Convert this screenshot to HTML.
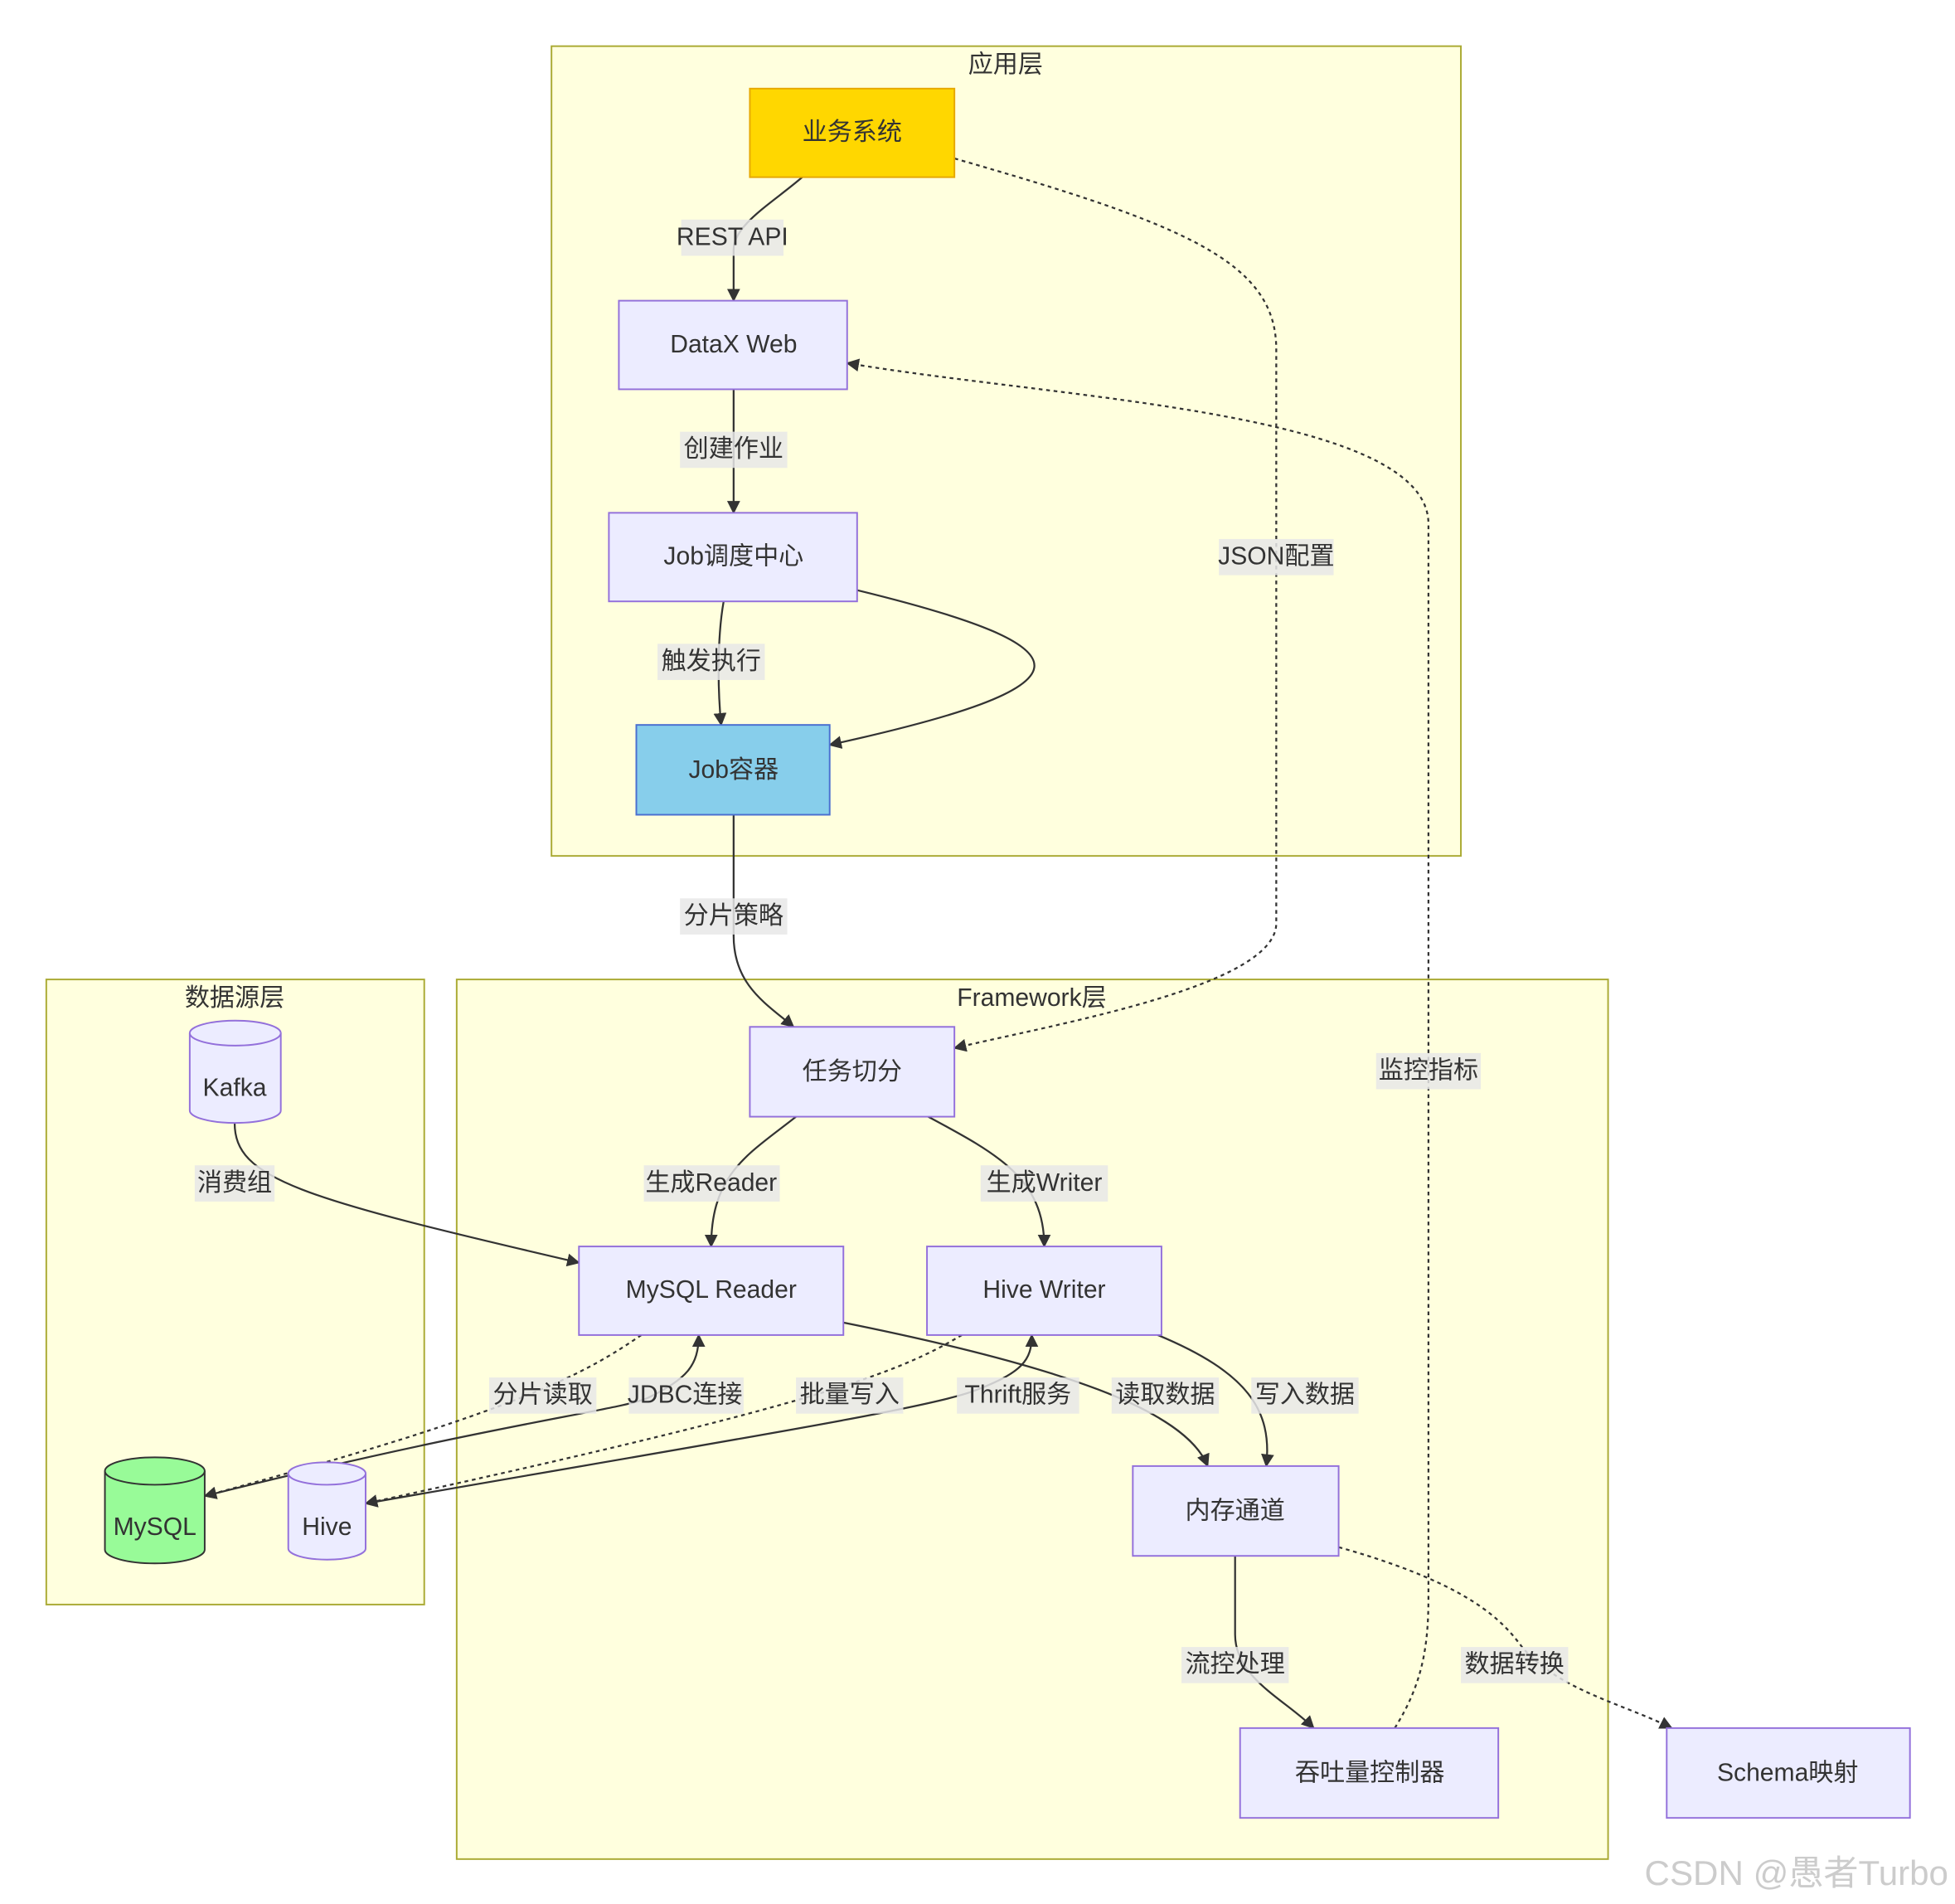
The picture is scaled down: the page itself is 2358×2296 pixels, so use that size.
<!DOCTYPE html>
<html><head><meta charset="utf-8"><style>
html,body{margin:0;padding:0;background:#fff}
svg{display:block}
text{font-family:"Liberation Sans","Noto Sans CJK SC",sans-serif;fill:#333;font-size:20px;text-anchor:middle;dominant-baseline:central}
.n{fill:#ECECFF;stroke:#9370DB;stroke-width:1.3}
.g{fill:#ffffde;stroke:#aaaa33;stroke-width:1.3}
.e{fill:none;stroke:#333;stroke-width:1.5}
.d{fill:none;stroke:#333;stroke-width:1.5;stroke-dasharray:3,3}
.lb{fill:rgba(232,232,232,0.85)}
</style></head><body>
<svg width="2358" height="2296" viewBox="0 0 1567 1526" xmlns="http://www.w3.org/2000/svg">
<defs><marker id="a" viewBox="0 0 10 10" refX="9" refY="5" markerWidth="7" markerHeight="7" orient="auto"><path d="M0,0L10,5L0,10z" fill="#333"/></marker></defs>
<rect class="g" x="442" y="37" width="729" height="649"/>
<text x="806" y="52">应用层</text>
<rect class="g" x="37" y="785" width="303" height="501"/>
<text x="188" y="800">数据源层</text>
<rect class="g" x="366" y="785" width="923" height="705"/>
<text x="827" y="800">Framework层</text>

<!-- edges -->
<path class="e" marker-end="url(#a)" d="M643,142 C620,162 588,180 588,200 L588,241"/>
<path class="d" marker-end="url(#a)" d="M765,127 C950,180 1023,210 1023,280 L1023,740 C1023,790 850,820 765,840"/>
<path class="d" marker-end="url(#a)" d="M1118,1385 C1140,1350 1145,1320 1145,1280 L1145,420 C1145,330 850,320 679,291"/>
<path class="e" marker-end="url(#a)" d="M588,312 L588,411"/>
<path class="e" marker-end="url(#a)" d="M580,482 C575,510 575,550 578,581"/>
<path class="e" marker-end="url(#a)" d="M687,473 C880,520 880,550 665,597"/>
<path class="e" marker-end="url(#a)" d="M588,653 L588,750 C588,790 615,805 636,823"/>
<path class="e" marker-end="url(#a)" d="M638,895 C600,925 570,940 570,999"/>
<path class="e" marker-end="url(#a)" d="M744,895 C800,925 837,945 837,999"/>
<path class="e" marker-end="url(#a)" d="M188,900 C188,945 240,960 464,1012"/>
<path class="d" marker-end="url(#a)" d="M514,1070 C470,1100 420,1130 164,1199"/>
<path class="e" marker-end="url(#a)" d="M164,1199 C400,1140 500,1130 520,1120 C550,1105 560,1095 560,1070"/>
<path class="d" marker-end="url(#a)" d="M771,1070 C720,1100 660,1125 293,1205"/>
<path class="e" marker-end="url(#a)" d="M293,1205 C550,1160 740,1130 780,1115 C820,1100 827,1090 827,1070"/>
<path class="e" marker-end="url(#a)" d="M676,1060 C850,1095 950,1130 968,1175"/>
<path class="e" marker-end="url(#a)" d="M928,1070 C1000,1100 1020,1130 1015,1175"/>
<path class="e" marker-end="url(#a)" d="M990,1247 L990,1310 C990,1345 1030,1362 1053,1385"/>
<path class="d" marker-end="url(#a)" d="M1073,1240 C1180,1270 1205,1300 1220,1320 C1250,1355 1300,1365 1340,1385"/>

<!-- nodes -->
<rect x="601" y="71" width="164" height="71" fill="#FFD700" stroke="#e6a800" stroke-width="1.3"/><text x="683" y="106">业务系统</text>
<rect class="n" x="496" y="241" width="183" height="71"/><text x="588" y="276">DataX Web</text>
<rect class="n" x="488" y="411" width="199" height="71"/><text x="588" y="446">Job调度中心</text>
<rect x="510" y="581" width="155" height="72" fill="#87CEEB" stroke="#4a6fd0" stroke-width="1.3"/><text x="588" y="617">Job容器</text>
<rect class="n" x="601" y="823" width="164" height="72"/><text x="683" y="859">任务切分</text>
<rect class="n" x="464" y="999" width="212" height="71"/><text x="570" y="1034">MySQL Reader</text>
<rect class="n" x="743" y="999" width="188" height="71"/><text x="837" y="1034">Hive Writer</text>
<rect class="n" x="908" y="1175" width="165" height="72"/><text x="990" y="1211">内存通道</text>
<rect class="n" x="994" y="1385" width="207" height="72"/><text x="1098" y="1421">吞吐量控制器</text>
<rect class="n" x="1336" y="1385" width="195" height="72"/><text x="1433" y="1421">Schema映射</text>

<!-- cylinders -->
<path class="n" d="M152,828 A36.5,10 0 0 1 225,828 L225,890 A36.5,10 0 0 1 152,890 Z"/><path class="n" fill="none" d="M152,828 A36.5,10 0 0 0 225,828"/><text x="188" y="872">Kafka</text>
<path d="M84,1179 A40,11 0 0 1 164,1179 L164,1242 A40,11 0 0 1 84,1242 Z" fill="#98FB98" stroke="#333" stroke-width="1.3"/><path d="M84,1179 A40,11 0 0 0 164,1179" fill="none" stroke="#333" stroke-width="1.3"/><text x="124" y="1224">MySQL</text>
<path class="n" d="M231,1181 A31,9 0 0 1 293,1181 L293,1241 A31,9 0 0 1 231,1241 Z"/><path class="n" fill="none" d="M231,1181 A31,9 0 0 0 293,1181"/><text x="262" y="1224">Hive</text>

<!-- labels -->
<rect class="lb" x="546" y="176" width="82" height="29"/><text x="587" y="190">REST API</text>
<rect class="lb" x="977" y="432" width="92" height="29"/><text x="1023" y="446">JSON配置</text>
<rect class="lb" x="1103" y="844" width="84" height="29"/><text x="1145" y="858">监控指标</text>
<rect class="lb" x="545" y="346" width="86" height="29"/><text x="588" y="360">创建作业</text>
<rect class="lb" x="527" y="516" width="86" height="29"/><text x="570" y="530">触发执行</text>
<rect class="lb" x="545" y="720" width="86" height="29"/><text x="588" y="734">分片策略</text>
<rect class="lb" x="516" y="934" width="109" height="29"/><text x="570" y="948">生成Reader</text>
<rect class="lb" x="786" y="934" width="102" height="29"/><text x="837" y="948">生成Writer</text>
<rect class="lb" x="156" y="934" width="64" height="29"/><text x="188" y="948">消费组</text>
<rect class="lb" x="392" y="1104" width="86" height="29"/><text x="435" y="1118">分片读取</text>
<rect class="lb" x="504" y="1104" width="92" height="29"/><text x="549" y="1118">JDBC连接</text>
<rect class="lb" x="638" y="1104" width="86" height="29"/><text x="681" y="1118">批量写入</text>
<rect class="lb" x="767" y="1104" width="98" height="29"/><text x="816" y="1118">Thrift服务</text>
<rect class="lb" x="891" y="1104" width="86" height="29"/><text x="934" y="1118">读取数据</text>
<rect class="lb" x="1003" y="1104" width="86" height="29"/><text x="1046" y="1118">写入数据</text>
<rect class="lb" x="947" y="1320" width="86" height="29"/><text x="990" y="1334">流控处理</text>
<rect class="lb" x="1171" y="1320" width="86" height="29"/><text x="1214" y="1334">数据转换</text>

<text x="1440" y="1501" style="font-size:28px;fill:#ccc">CSDN @愚者Turbo</text>
</svg>
</body></html>
